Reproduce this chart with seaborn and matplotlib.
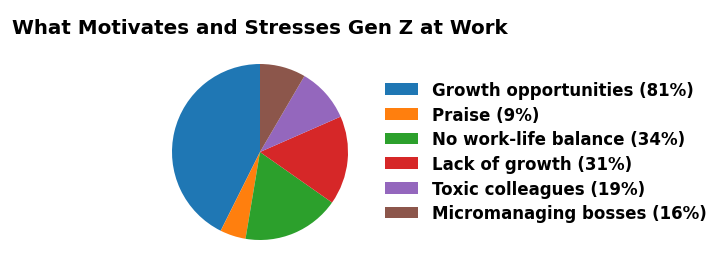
import matplotlib
matplotlib.use("Agg")
import matplotlib.pyplot as plt
import seaborn as sns

categories = ["Growth opportunities", "Praise", "No work-life balance",
              "Lack of growth", "Toxic colleagues", "Micromanaging bosses"]
values = [81, 9, 34, 31, 19, 16]
labels = [f"{c} ({v}%)" for c, v in zip(categories, values)]

sns.set_style("white")
plt.rcParams['font.family'] = ['DejaVu Sans']
plt.rcParams['text.color'] = 'black'
colors = sns.color_palette("tab10", len(values))

fig = plt.figure(figsize=(7.28, 2.55), dpi=100)
ax = fig.add_axes([172/728, (255-241)/255, 176/728, 176/255])
wedges, _ = ax.pie(values, colors=colors, startangle=90, counterclock=True,
                   wedgeprops={"linewidth": 0, "edgecolor": "none"})
ax.set_xlim(-1, 1)
ax.set_ylim(-1, 1)
ax.set_aspect("equal")
ax.axis("off")

fig.text(12/728, 1 - 19/255, "What Motivates and Stresses Gen Z at Work",
         fontsize=14.3, fontweight="bold", va="top", ha="left", color="black")

fig.legend(wedges, labels, loc="upper left", bbox_to_anchor=(385/728, 1 - 82/255),
           frameon=False, borderaxespad=0, borderpad=0, labelspacing=0.4,
           prop={"size": 12, "weight": "bold"}, labelcolor="black")

fig.savefig("out.png", dpi=100)
